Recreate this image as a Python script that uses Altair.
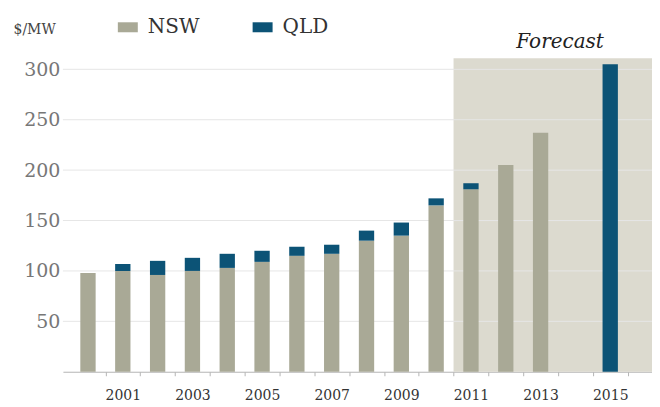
import altair as alt
import pandas as pd

years = list(range(2000, 2016))
nsw = [98, 100, 96, 100, 103, 109, 115, 117, 130, 135, 165, 181, 205, 237, 0, 0]
qld = [0, 7, 14, 13, 14, 11, 9, 9, 10, 13, 7, 6, 0, 0, 0, 305]
series = ["NSW", "QLD"]
colors = ["#a9a996", "#0c5376"]
y_ticks = [50, 100, 150, 200, 250, 300]
x_bounds = [y + 0.5 for y in years]
forecast_start = [2010.5]
x_domain = [1999.28, 2016.2]
y_domain = [0, 311]
forecast_label = ["Forecast"]
forecast_label_x = [2013.56]

rows = []
for yr, n, q in zip(years, nsw, qld):
    rows.append({"year": yr, "region": "NSW", "value": n, "order": 0})
    rows.append({"year": yr, "region": "QLD", "value": q, "order": 1})
df = pd.DataFrame(rows)

FONT = "DejaVu Serif"
RECT = "M-1,-0.5H1V0.5H-1Z"
xscale = alt.Scale(domain=x_domain, nice=False, zero=False)
yscale = alt.Scale(domain=y_domain, nice=False, zero=False)

xaxis = alt.Axis(
    title=None, values=x_bounds, grid=False,
    labelExpr="(datum.value - 0.5) % 2 == 1 ? format(datum.value - 0.5, 'd') : ''",
    labelOffset=-17.4, labelFont=FONT, labelFontSize=14, labelColor="#333333",
    labelPadding=13, tickSize=4, tickColor="#b5b5b5", domainColor="#b5b5b5",
    labelFlush=False, labelOverlap=False,
)
yaxis = alt.Axis(
    title="$/MW", values=y_ticks, grid=False, domain=False, ticks=False,
    labelFont=FONT, labelFontSize=19, labelColor="#777777", labelPadding=3,
    titleAngle=0, titleX=-50, titleY=-25, titleAlign="left",
    titleBaseline="alphabetic", titleFont=FONT, titleFontSize=14,
    titleFontWeight="normal", titleColor="#444444",
)

shade_df = pd.DataFrame({"x0": forecast_start, "x1": [x_domain[1]],
                         "y0": [y_domain[0]], "y1": [y_domain[1]]})
shade = alt.Chart(shade_df).mark_rect(color="#dcdacf").encode(
    x=alt.X("x0:Q", scale=xscale, axis=xaxis),
    x2="x1:Q",
    y=alt.Y("y0:Q", scale=yscale, axis=yaxis),
    y2="y1:Q",
)

grid = alt.Chart(pd.DataFrame({"v": y_ticks})).mark_rule(
    color="#e6e6e6", strokeWidth=1
).encode(
    y=alt.Y("v:Q", scale=yscale, axis=yaxis),
    x=alt.value(0),
    x2=alt.value(590),
)

bars = alt.Chart(df).transform_stack(
    stack="value", as_=["y0", "y1"], groupby=["year"],
    sort=[alt.SortField("order", order="ascending")],
).transform_calculate(
    x0="datum.year - 0.22", x1="datum.year + 0.22"
).mark_rect().encode(
    x=alt.X("x0:Q", scale=xscale, axis=xaxis),
    x2="x1:Q",
    y=alt.Y("y0:Q", scale=yscale, axis=yaxis),
    y2="y1:Q",
    color=alt.Color(
        "region:N",
        scale=alt.Scale(domain=series, range=colors),
        legend=alt.Legend(
            title=None, orient="none", legendX=55, legendY=-41,
            direction="horizontal", symbolType=RECT,
            symbolSize=400, symbolStrokeWidth=0, symbolOpacity=1,
            labelFont=FONT, labelFontSize=20, labelColor="#333333",
            labelOffset=10, columnPadding=53, padding=0,
        ),
    ),
)

label = alt.Chart(pd.DataFrame({"x": forecast_label_x, "t": forecast_label})).mark_text(
    font=FONT, fontStyle="italic", fontSize=20, color="#222222", baseline="middle"
).encode(
    x=alt.X("x:Q", scale=xscale, axis=xaxis),
    y=alt.value(-16),
    text="t:N",
)

chart = alt.layer(shade, grid, bars, label).properties(
    width=590, height=314,
    padding={"left": 55, "top": 50, "right": 0, "bottom": 33},
    autosize="none",
).configure_view(stroke=None)

chart.save("out.html", embed_options={"renderer": "svg", "actions": False})
